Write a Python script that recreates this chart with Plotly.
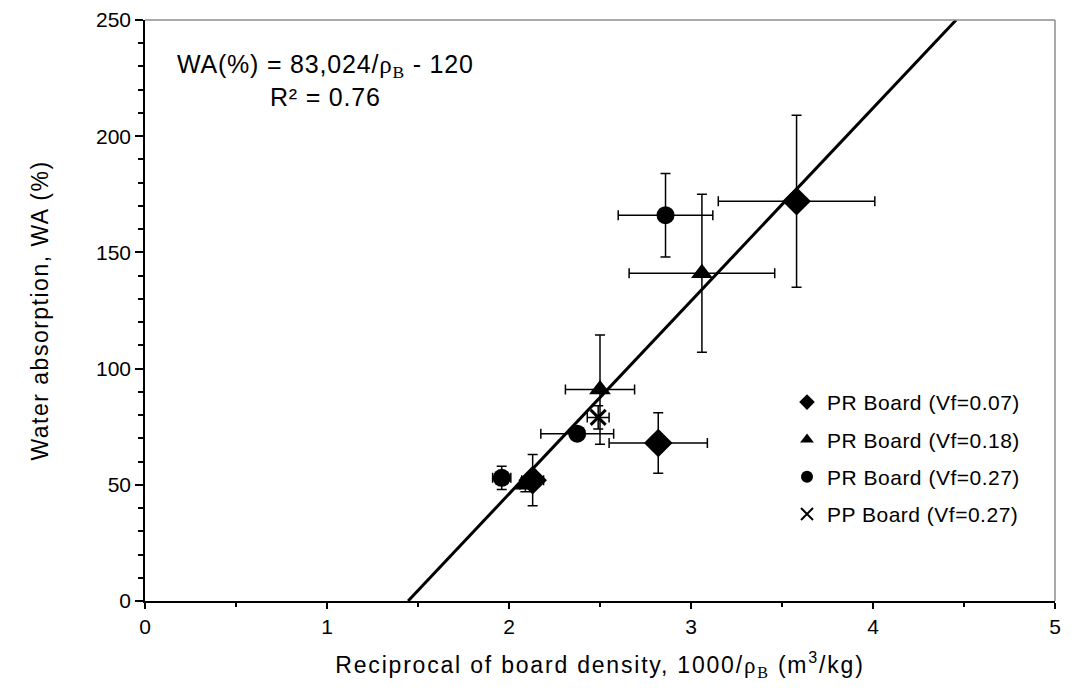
import plotly.graph_objects as go

# ---- data ----
vf07_x = [3.58, 2.82, 2.13]
vf07_y = [172, 68, 52]
vf07_ex = [0.43, 0.27, 0.06]
vf07_ey = [37, 13, 11]

vf18_x = [3.06, 2.50, 2.09]
vf18_y = [141, 91, 50]
vf18_ex = [0.40, 0.19, 0.03]
vf18_ey = [34, 23.5, 3]

vf27_x = [2.86, 2.375, 1.96]
vf27_y = [166, 72, 53]
vf27_ex = [0.26, 0.20, 0.05]
vf27_ey = [18, 2, 5]

pp27_x = [2.49]
pp27_y = [79]
pp27_ex = [0.06]
pp27_ey = [5]

fit_slope = 83.024
fit_intercept = -120
fit_y_range = [0, 250]

FONT = "Arial, Liberation Sans, sans-serif"
SERIF = "Liberation Serif"

def spaced(t, ls):
    return f"<span style='letter-spacing:{ls}px'>{t}</span>"

fig = go.Figure()

# trend line
fit_x = [(v - fit_intercept) / fit_slope for v in fit_y_range]
fig.add_trace(go.Scatter(x=fit_x, y=fit_y_range, mode="lines",
                         line=dict(color="black", width=3), showlegend=False,
                         hoverinfo="skip"))

series = [
    ("PR Board (Vf=0.07)", vf07_x, vf07_y, vf07_ex, vf07_ey, "diamond", 22),
    ("PR Board (Vf=0.18)", vf18_x, vf18_y, vf18_ex, vf18_ey, "triangle-up", 19),
    ("PR Board (Vf=0.27)", vf27_x, vf27_y, vf27_ex, vf27_ey, "circle", 18),
    ("PP Board (Vf=0.27)", pp27_x, pp27_y, pp27_ex, pp27_ey, "x-thin-open", 15),
]
for i, (name, xs, ys, ex, ey, sym, sz) in enumerate(series):
    marker = dict(symbol=sym, size=sz, color="black")
    if sym.endswith("open"):
        marker["line"] = dict(color="black", width=3)
    fig.add_trace(go.Scatter(
        x=xs, y=ys, mode="markers", name=spaced(name, 0.5), legendgroup=f"g{i}",
        marker=marker,
        error_x=dict(type="data", array=ex, color="black", thickness=1.5, width=5),
        error_y=dict(type="data", array=ey, color="black", thickness=1.5, width=5),
    ))

# top / right gray border
fig.add_shape(type="line", xref="paper", yref="paper", x0=0, x1=1, y0=1, y1=1,
              line=dict(color="#8c8c8c", width=1.5))
fig.add_shape(type="line", xref="paper", yref="paper", x0=1, x1=1, y0=0, y1=1,
              line=dict(color="#8c8c8c", width=1.5))

fig.add_annotation(
    xref="x", yref="y", x=0.99, y=224, showarrow=False, align="center",
    text=spaced(f"WA(%) = 83,024/<span style='font-family:{SERIF}'>ρ<sub>B</sub></span> - 120", 0.8)
         + "<br>" + spaced("R² = 0.76", 0.8),
    font=dict(family=FONT, size=25, color="black"),
)

fig.update_layout(
    width=1059, height=678,
    margin=dict(l=137, r=12, t=12, b=85),
    paper_bgcolor="white", plot_bgcolor="white",
    font=dict(family=FONT, size=20, color="black"),
    showlegend=True,
    legend=dict(x=0.7055, y=0.377, xanchor="left", yanchor="top",
                font=dict(family=FONT, size=21, color="black"),
                bgcolor="rgba(0,0,0,0)", tracegroupgap=7,
                itemwidth=30, itemsizing="constant"),
)
fig.update_xaxes(
    range=[0, 5], dtick=1, tick0=0, showgrid=False, zeroline=False,
    automargin=False,
    showline=True, linecolor="black", linewidth=1.5,
    ticks="outside", ticklen=6, tickwidth=1.5, tickcolor="black",
    minor=dict(dtick=0.5, ticks="outside", ticklen=4, tickwidth=1.5, tickcolor="black"),
    tickfont=dict(size=21),
    title=dict(text=spaced(f"Reciprocal of board density, 1000/<span style='font-family:{SERIF}'>ρ<sub>B</sub></span> (m<sup>3</sup>/kg)", 1.8),
               font=dict(size=23), standoff=20),
)
fig.update_yaxes(
    range=[0, 250], dtick=50, tick0=0, showgrid=False, zeroline=False,
    automargin=False,
    showline=True, linecolor="black", linewidth=1.5,
    ticks="outside", ticklen=8, tickwidth=1.5, tickcolor="black",
    minor=dict(dtick=10, ticks="outside", ticklen=5, tickwidth=1.5, tickcolor="black"),
    tickfont=dict(size=21),
    title=dict(text=spaced("Water absorption, WA (%)", 1.5), font=dict(size=23), standoff=41),
)

fig.write_html("out.html")
